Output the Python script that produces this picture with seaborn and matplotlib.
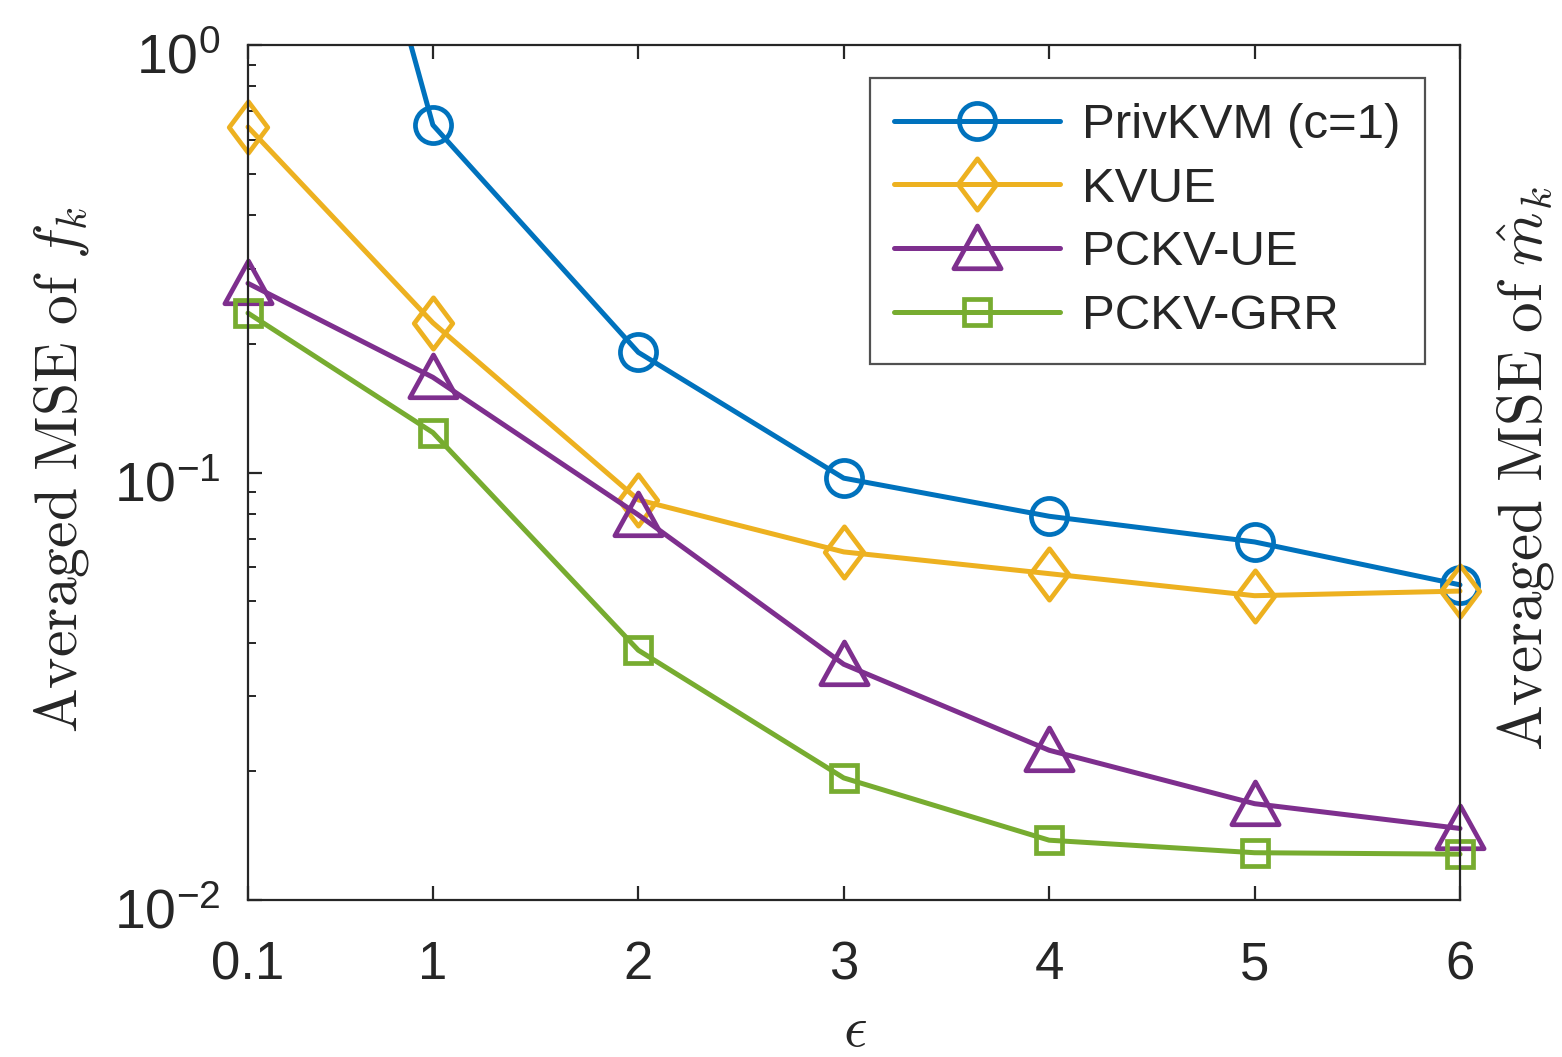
import numpy as np
import pandas as pd
import matplotlib
matplotlib.use("Agg")
import matplotlib.pyplot as plt
from matplotlib.path import Path
from matplotlib.patches import Rectangle
from matplotlib.transforms import ScaledTranslation
import seaborn as sns

# epsilon values and averaged MSE per mechanism
epsilon = [0.1, 1, 2, 3, 4, 5, 6]
privkvm = [24.0, 0.65, 0.191, 0.097, 0.079, 0.0688, 0.0546]
kvue = [0.643, 0.224, 0.0863, 0.0652, 0.058, 0.0515, 0.0528]
pckv_ue = [0.277, 0.167, 0.0796, 0.0356, 0.0224, 0.0168, 0.0147]
pckv_grr = [0.236, 0.124, 0.0384, 0.0193, 0.0138, 0.0129, 0.0128]

series_names = ["PrivKVM (c=1)", "KVUE", "PCKV-UE", "PCKV-GRR"]
series_values = [privkvm, kvue, pckv_ue, pckv_grr]
x_ticks = [0.1, 1, 2, 3, 4, 5, 6]
x_ticklabels = ["0.1", "1", "2", "3", "4", "5", "6"]

sns.set_theme(style="white")
plt.rcParams["font.family"] = ["Liberation Sans", "DejaVu Sans"]
plt.rcParams["mathtext.fontset"] = "custom"
plt.rcParams["mathtext.rm"] = "Liberation Sans"
plt.rcParams["axes.unicode_minus"] = False

colors = ["#0072BD", "#EDB120", "#7E2F8E", "#77AC30"]
diamond = Path([(0, 1), (0.75, 0), (0, -1), (-0.75, 0), (0, 1)],
               [Path.MOVETO, Path.LINETO, Path.LINETO, Path.LINETO, Path.CLOSEPOLY])
triangle = Path([(0, 1), (1.05, -0.9), (-1.05, -0.9), (0, 1)],
                [Path.MOVETO, Path.LINETO, Path.LINETO, Path.CLOSEPOLY])
markers = ["o", diamond, triangle, "s"]
msizes = [26, 37, 34, 19]

fig = plt.figure(figsize=(15.62, 10.57), dpi=100)
ax = fig.add_axes([248 / 1562, 1 - 900 / 1057, (1460 - 248) / 1562, (900 - 45) / 1057])

for name, vals, c, m, ms in zip(series_names, series_values, colors, markers, msizes):
    df = pd.DataFrame({"eps": epsilon, "mse": vals})
    sns.lineplot(data=df, x="eps", y="mse", ax=ax, color=c, marker=m,
                 markersize=ms, markerfacecolor="none", markeredgecolor=c,
                 markeredgewidth=3.4, linewidth=3.6, label=name)

ax.set_yscale("log")
ax.set_ylim(0.01, 1)
ax.set_xlim(0.1, 6)
ax.set_xticks(x_ticks)
ax.set_xticklabels(x_ticklabels)

# clip only at the top/bottom so the end markers stay whole
clip_rect = Rectangle((-0.1, -0.1), 1.2, 1.1, transform=ax.transAxes,
                      facecolor="none", edgecolor="none")
ax.add_patch(clip_rect)
for line in ax.get_lines():
    line.set_clip_path(clip_rect)

spine_color = "#262626"
for s in ax.spines.values():
    s.set_color(spine_color)
    s.set_linewidth(1.6)
    s.set_visible(True)

ax.tick_params(axis="x", which="major", direction="in", length=10, width=1.6,
               colors=spine_color, labelsize=38, labelcolor="#262626",
               top=True, bottom=True, pad=29)
ax.tick_params(axis="y", which="major", direction="in", length=10, width=1.6,
               colors=spine_color, labelsize=40, labelcolor="#262626",
               left=True, right=True, pad=20)
ax.tick_params(axis="y", which="minor", direction="in", length=6, width=1.4,
               colors=spine_color, right=True, left=True)
ax.tick_params(axis="x", which="minor", bottom=False, top=False)

# nudge the power-of-ten labels so the mantissa sits on the tick
shift = ScaledTranslation(0, -6 / 72, fig.dpi_scale_trans)
for lbl in ax.get_yticklabels():
    lbl.set_transform(lbl.get_transform() + shift)

ax.set_xlabel(r"$\epsilon$", fontsize=42, math_fontfamily="cm", color="#262626")
ax.xaxis.label.set_va("center")
ax.xaxis.set_label_coords((855 - 248) / 1212, (900 - 1031) / 855)

ax.set_ylabel(r"$\mathrm{Averaged\ MSE\ of\ }f_k$", fontsize=43,
              math_fontfamily="cm", color="#262626")
ax.yaxis.label.set_va("center")
ax.yaxis.set_label_coords((62 - 248) / 1212, (900 - 470) / 855)

ax2 = ax.twinx()
ax2.set_yscale("log")
ax2.set_ylim(0.01, 1)
ax2.tick_params(axis="y", which="both", right=False, labelright=False)
for s in ax2.spines.values():
    s.set_visible(False)
ax2.set_ylabel(r"$\mathrm{Averaged\ MSE\ of\ }\hat{m}_k$", fontsize=44,
               math_fontfamily="cm", color="#262626")
ax2.yaxis.label.set_va("center")
ax2.yaxis.label.set_rotation(90)
ax2.yaxis.set_label_coords((1526 - 248) / 1212, (900 - 468) / 855)

leg = ax.legend(loc="upper right", bbox_to_anchor=(0.971, 0.961), fontsize=35.5,
                frameon=True, fancybox=False, handlelength=3.35, handletextpad=0.45,
                borderpad=0.5, labelspacing=0.38, borderaxespad=0)
leg.get_frame().set_edgecolor(spine_color)
leg.get_frame().set_linewidth(1.6)

fig.savefig("out.png", dpi=100)
